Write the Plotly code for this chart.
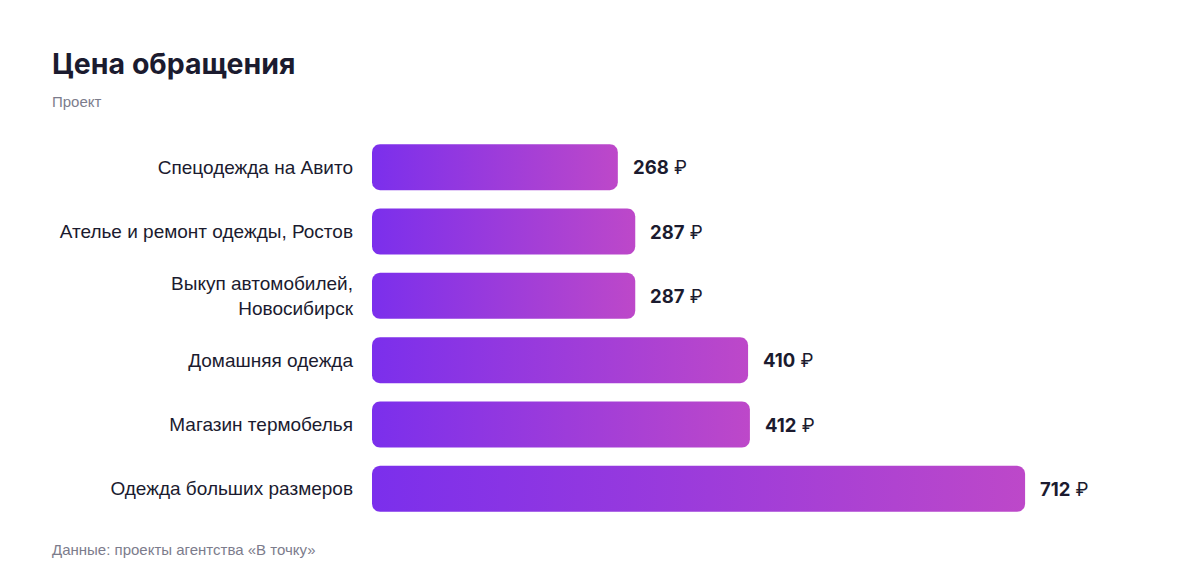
import math
import plotly.graph_objects as go

categories = [
    'Спецодежда на Авито',
    'Ателье и ремонт одежды, Ростов',
    'Выкуп автомобилей,<br>Новосибирск',
    'Домашняя одежда',
    'Магазин термобелья',
    'Одежда больших размеров',
]
values = [268, 287, 287, 410, 412, 712]
value_labels = ['<b>%d</b> ₽' % v for v in values]

# geometry of the plot area, used to keep bar corners round in pixels
WIDTH, HEIGHT = 1200, 584
M_L, M_R, M_T, M_B = 364, 60, 127, 71
X_MAX = 846
BAR_H = 0.715
RADIUS_PX = 8
LEFT_PX = 44

plot_w = WIDTH - M_L - M_R
plot_h = HEIGHT - M_T - M_B
px_x = plot_w / X_MAX
px_y = plot_h / len(categories)
rx = RADIUS_PX / px_x
ry = RADIUS_PX / px_y

C_LEFT = '#7b2fec'
C_RIGHT = '#bd48c9'
DARK = '#1b1b2f'
GREY = '#7c7c8c'


def rounded_bar(value, row):
    """Outline of a horizontal bar with rounded corners (data coords)."""
    y0, y1 = row - BAR_H / 2, row + BAR_H / 2
    xs, ys = [], []
    corners = [
        (value - rx, y1 - ry, 0, 90),
        (rx, y1 - ry, 90, 180),
        (rx, y0 + ry, 180, 270),
        (value - rx, y0 + ry, 270, 360),
    ]
    for cx, cy, a0, a1 in corners:
        for k in range(9):
            a = math.radians(a0 + (a1 - a0) * k / 8)
            xs.append(cx + rx * math.cos(a))
            ys.append(cy + ry * math.sin(a))
    xs.append(xs[0])
    ys.append(ys[0])
    return xs, ys


fig = go.Figure()

for i, v in enumerate(values):
    xs, ys = rounded_bar(v, i)
    fig.add_trace(go.Scatter(
        x=xs, y=ys,
        mode='lines',
        fill='toself',
        line=dict(width=0),
        fillgradient=dict(type='horizontal',
                          colorscale=[[0, C_LEFT], [1, C_RIGHT]]),
        hoverinfo='skip',
        showlegend=False,
    ))

for i, (v, lab) in enumerate(zip(values, value_labels)):
    fig.add_annotation(
        x=v, y=i, xref='x', yref='y',
        text=lab, showarrow=False,
        xanchor='left', xshift=13,
        font=dict(family='Inter', size=18.5, color=DARK),
    )

left_paper = (LEFT_PX - M_L) / plot_w
fig.add_annotation(
    x=left_paper, y=1 + (M_T - 94) / plot_h, xref='paper', yref='paper',
    text='Проект', showarrow=False,
    xanchor='left', yanchor='middle', xshift=-2,
    font=dict(family='Liberation Sans', size=15, color=GREY),
)
fig.add_annotation(
    x=left_paper, y=-(541 - (HEIGHT - M_B)) / plot_h, xref='paper', yref='paper',
    text='Данные: проекты агентства «В точку»', showarrow=False,
    xanchor='left', yanchor='middle', xshift=-2,
    font=dict(family='Liberation Sans', size=15, color=GREY),
)

fig.update_layout(
    width=WIDTH, height=HEIGHT,
    margin=dict(l=M_L, r=M_R, t=M_T, b=M_B),
    paper_bgcolor='white',
    plot_bgcolor='white',
    title=dict(
        text='<b>Цена обращения</b>',
        x=LEFT_PX / WIDTH, xref='container', xanchor='left',
        y=1 - 46 / HEIGHT, yref='container', yanchor='top',
        font=dict(family='Inter', size=28.5, color=DARK),
    ),
    xaxis=dict(range=[0, X_MAX], visible=False, fixedrange=True),
    yaxis=dict(
        range=[len(categories) - 0.5, -0.5],
        tickvals=list(range(len(categories))),
        ticktext=categories,
        showgrid=False, zeroline=False, showline=False,
        ticks='', ticklabelstandoff=18,
        tickfont=dict(family='Liberation Sans', size=19, color=DARK),
        fixedrange=True,
    ),
)

fig.write_html('out.html')
